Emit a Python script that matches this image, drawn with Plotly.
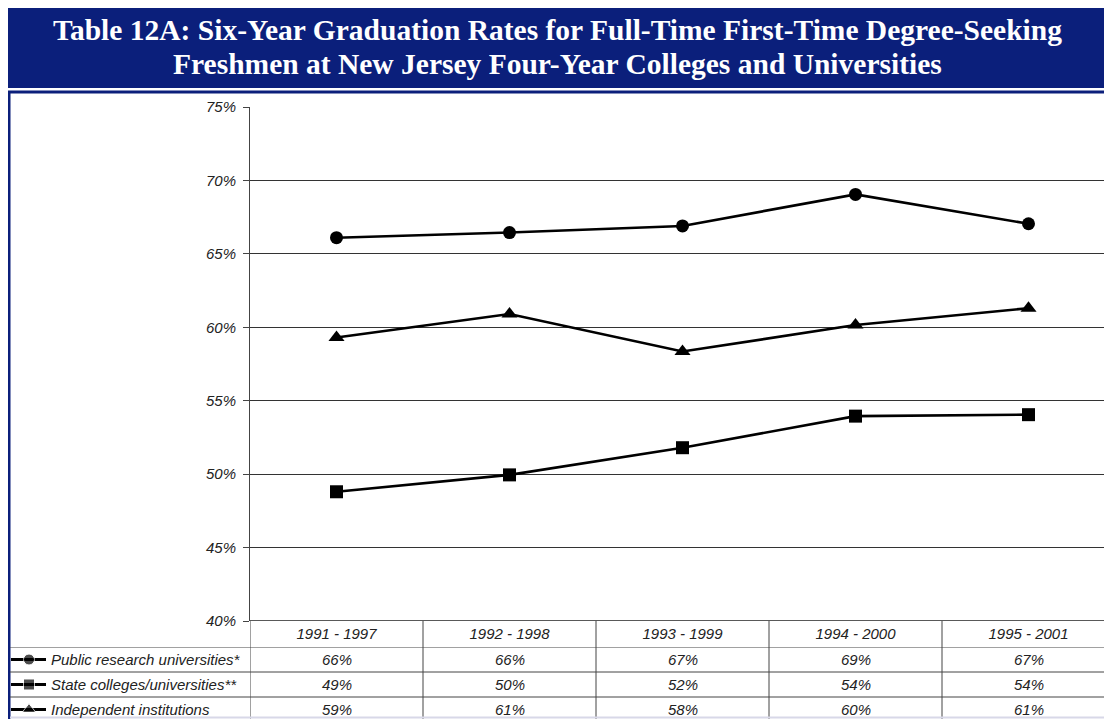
import plotly.graph_objects as go

# ---------------- data ----------------
cohorts = ["1991 - 1997", "1992 - 1998", "1993 - 1999", "1994 - 2000", "1995 - 2001"]
series_names = ["Public research universities*", "State colleges/universities**", "Independent institutions"]
public_research = [66.1, 66.45, 66.9, 69.05, 67.05]
state_colleges = [48.8, 49.95, 51.8, 53.95, 54.05]
independent = [59.3, 60.9, 58.35, 60.15, 61.3]
table_public = ["66%", "66%", "67%", "69%", "67%"]
table_state = ["49%", "50%", "52%", "54%", "54%"]
table_indep = ["59%", "61%", "58%", "60%", "61%"]
y_ticks = [40, 45, 50, 55, 60, 65, 70, 75]
y_tick_labels = ["40%", "45%", "50%", "55%", "60%", "65%", "70%", "75%"]
title_lines = ["Table 12A: Six-Year Graduation Rates for Full-Time First-Time Degree-Seeking",
               "Freshmen at New Jersey Four-Year Colleges and Universities"]

# ---------------- layout helpers ----------------
OFF = 8
W, H = 1112 - OFF, 719 - OFF
def fx(px):
    return max(0.0, (px - OFF) / W)
def fy(py):
    return min(1.0, 1 - (py - OFF) / H)

NAVY = "#0B1F7B"
TXT = "#222222"
FONT = "Liberation Sans, Arial, sans-serif"
FS = 15

series_vals = [public_research, state_colleges, independent]
series_tbl = [table_public, table_state, table_indep]
symbols = ["circle", "square", "triangle-up"]
msizes = [13, 13, 14]
leg_sizes = [11, 11, 12]

fig = go.Figure()

for name, vals, sym, ms in zip(series_names, series_vals, symbols, msizes):
    fig.add_trace(go.Scatter(
        x=cohorts, y=vals, name=name, mode="lines+markers",
        line=dict(color="black", width=2.6),
        marker=dict(symbol=sym, size=ms, color="black"),
        xaxis="x", yaxis="y", showlegend=False, cliponaxis=False,
    ))

# legend keys inside the data table (x2 in screen-pixel units, y2 = row index)
for i, (sym, ls) in enumerate(zip(symbols, leg_sizes)):
    fig.add_trace(go.Scatter(
        x=[11, 29, 46], y=[i, i, i], mode="lines+markers",
        line=dict(color="black", width=2.8),
        marker=dict(symbol=sym, size=[0, ls, 0], color="black"),
        xaxis="x2", yaxis="y2", showlegend=False, hoverinfo="skip",
    ))

shapes = []
shapes.append(dict(type="rect", xref="paper", yref="paper", x0=fx(6), x1=1, y0=fy(88), y1=fy(3),
                   fillcolor=NAVY, line=dict(width=0), layer="below"))
shapes.append(dict(type="line", xref="paper", yref="paper", x0=fx(6), x1=1, y0=fy(92), y1=fy(92),
                   line=dict(color=NAVY, width=3)))
shapes.append(dict(type="line", xref="paper", yref="paper", x0=fx(9), x1=fx(9), y0=0, y1=fy(92),
                   line=dict(color=NAVY, width=3)))
for b in [-0.5, 0.5, 1.5, 2.5, 3.5]:
    shapes.append(dict(type="line", xref="x", yref="paper", x0=b, x1=b, y0=0, y1=fy(621),
                       line=dict(color="#444444", width=1)))
for r in [-0.5, 0.5, 1.5]:
    shapes.append(dict(type="line", xref="paper", yref="y2", x0=fx(10), x1=1, y0=r, y1=r,
                       line=dict(color="#444444", width=1)))
shapes.append(dict(type="line", xref="paper", yref="paper", x0=fx(10), x1=1, y0=fy(717.5), y1=fy(717.5),
                   line=dict(color="#D8D8E8", width=2)))

annotations = []
for line_txt, cy in zip(title_lines, [30, 64]):
    annotations.append(dict(xref="paper", yref="paper", x=fx(557), y=fy(cy), xanchor="center",
                            yanchor="middle", text=line_txt, showarrow=False,
                            font=dict(family="Liberation Serif, Times New Roman, serif", size=29.5,
                                      color="white", weight="bold")))
for i, name in enumerate(series_names):
    annotations.append(dict(xref="x2", yref="y2", x=49, y=i, xanchor="left", yanchor="middle",
                            text=name, showarrow=False,
                            font=dict(family=FONT, size=FS, color=TXT, style="italic")))
    for c, t in zip(cohorts, series_tbl[i]):
        annotations.append(dict(xref="x", yref="y2", x=c, y=i, xanchor="center", yanchor="middle",
                                text=t, showarrow=False,
                                font=dict(family=FONT, size=FS, color=TXT, style="italic")))

plot_top, plot_bot = 107, 621
fig.update_layout(
    template="none",
    width=W, height=H, autosize=False, margin=dict(l=0, r=0, t=0, b=0, pad=0),
    paper_bgcolor="white", plot_bgcolor="white",
    shapes=shapes, annotations=annotations,
    xaxis=dict(domain=[fx(250), 1], type="category", range=[-0.5, -0.5 + 862 / 173],
               showgrid=False, zeroline=False, showline=False, ticks="", automargin=False,
               tickfont=dict(family=FONT, size=FS, color=TXT, style="italic"),
               ticklabelstandoff=2, anchor="y", fixedrange=True),
    yaxis=dict(domain=[fy(plot_bot), fy(plot_top)], range=[40, 75], tickvals=y_ticks,
               ticktext=y_tick_labels, showgrid=True, gridcolor="#333333", gridwidth=1,
               zeroline=False, showline=True, linecolor="#444444", linewidth=1, automargin=False,
               ticks="outside", ticklen=6, tickcolor="#444444", ticklabelstandoff=4,
               tickfont=dict(family=FONT, size=FS, color=TXT, style="italic"),
               anchor="x", fixedrange=True),
    xaxis2=dict(domain=[0, fx(250)], range=[OFF, 250], visible=False, anchor="y2",
                automargin=False, fixedrange=True),
    yaxis2=dict(domain=[0, fy(647)], range=[-0.5 + 72 / 25, -0.5], visible=False, anchor="x2",
                automargin=False, fixedrange=True),
)
fig.add_shape(type="line", xref="paper", yref="y", x0=fx(250), x1=1, y0=40, y1=40,
              line=dict(color="#222222", width=1.5))

fig.write_html("out.html")
